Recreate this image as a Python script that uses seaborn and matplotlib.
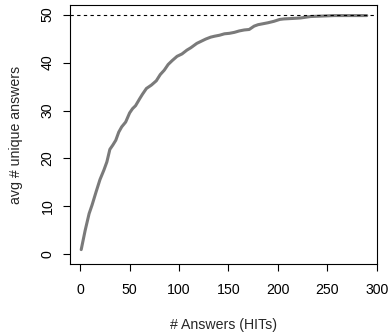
import matplotlib
matplotlib.use("Agg")
import matplotlib.pyplot as plt
import seaborn as sns
import pandas as pd

# valores
answers = [1, 5, 9, 12, 16, 20, 24, 27, 30, 33, 36, 39, 42, 46, 50, 53, 56,
           60, 63, 67, 72, 77, 81, 85, 89, 93, 98, 103, 108, 112, 118, 122,
           127, 132, 136, 141, 146, 151, 156, 161, 166, 171, 176, 180, 185,
           190, 196, 202, 206, 215, 223, 233, 245, 257, 270, 280, 290]
unique = [1.0, 5.0, 8.5, 10.3, 13.0, 15.6, 17.6, 19.3, 21.9, 22.8, 23.8,
          25.5, 26.6, 27.6, 29.5, 30.4, 31.0, 32.4, 33.4, 34.6, 35.3, 36.2,
          37.5, 38.4, 39.6, 40.4, 41.3, 41.8, 42.6, 43.1, 44.0, 44.4, 44.9,
          45.3, 45.5, 45.7, 46.0, 46.1, 46.3, 46.6, 46.8, 46.9, 47.6, 47.9,
          48.1, 48.3, 48.6, 49.0, 49.1, 49.2, 49.3, 49.6, 49.7, 49.8, 49.8,
          49.8, 49.8]
max_answers = 50

df = pd.DataFrame({"answers": answers, "unique": unique})

sns.set_style("ticks")
plt.rcParams["font.family"] = ["Liberation Sans", "DejaVu Sans"]

fig = plt.figure(figsize=(3.88, 3.35), dpi=100)
ax = fig.add_axes([0.180, 0.212, 0.792, 0.773])

sns.lineplot(data=df, x="answers", y="unique", ax=ax, color="#7a7a7a",
             linewidth=2.2, estimator=None)
ax.axhline(max_answers, color="black", linestyle=(0, (3, 3)), linewidth=0.8)

ax.set_xlim(-10.5, 300.5)
ax.set_ylim(-2, 52)
ax.set_xticks([0, 50, 100, 150, 200, 250, 300])
ax.set_yticks([0, 10, 20, 30, 40, 50])
for s in ax.spines.values():
    s.set_visible(True)
    s.set_color("black")
    s.set_linewidth(0.8)
ax.tick_params(axis="both", direction="out", length=5, width=0.8,
               labelsize=10.2, colors="black")
ax.tick_params(axis="x", pad=9)
ax.tick_params(axis="y", pad=6)
plt.setp(ax.get_yticklabels(), rotation=90, va="center")

ax.set_xlabel("# Answers (HITs)", fontsize=10.2, labelpad=15)
ax.set_ylabel("avg # unique answers", fontsize=10.2, labelpad=13)

fig.savefig("out.png", dpi=100)
